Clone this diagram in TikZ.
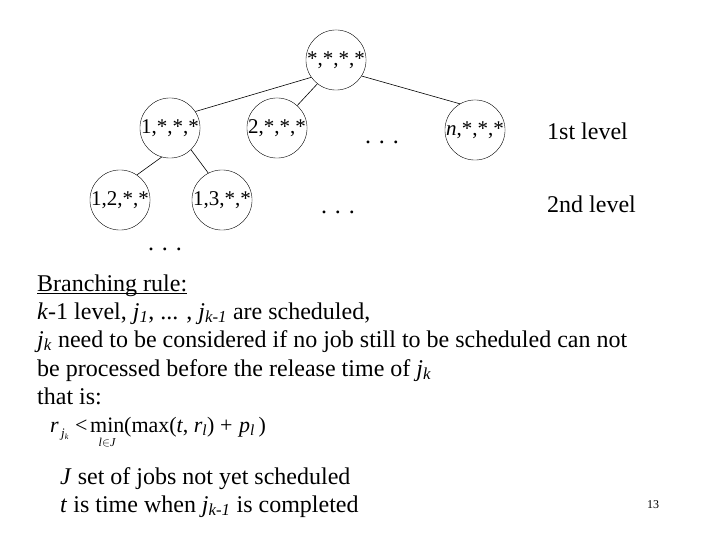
\documentclass[tikz,border=0pt]{standalone}
\usepackage{fontspec}
\setmainfont{Liberation Serif}
\usetikzlibrary{calc}
\begin{document}
\begin{tikzpicture}[x=1pt,y=-1pt,
  tnode/.style={draw,circle,minimum size=60pt,inner sep=0pt,font=\fontsize{21}{23}\selectfont},
  body/.style={anchor=base west,inner sep=0pt,font=\fontsize{24}{28}\selectfont},
  form/.style={anchor=base west,inner sep=0pt,font=\fontsize{22}{24}\selectfont},
  dots/.style={anchor=base,inner sep=0pt,font=\fontsize{24}{28}\selectfont},
  edge/.style={draw,line width=0.6pt}]
\useasboundingbox (0,0) rectangle (720,540);
\node[tnode] (root) at (336,60) {*,*,*,*};
\node[tnode] (n1) at (170,128) {1,*,*,*};
\node[tnode] (n2) at (277,128) {2,*,*,*};
\node[tnode] (nn) at (475,130) {\textit{n},*,*,*};
\node[tnode] (n12) at (120,200) {1,2,*,*};
\node[tnode] (n13) at (222,200) {1,3,*,*};
\node[dots] (d1) at (382,144) {. . .};
\node[dots] (d2) at (338,214) {. . .};
\node[dots] (d3) at (165,251) {. . .};
\node[body] (l1) at (547,140) {1st level};
\node[body] (l2) at (547,213) {2nd level};
\draw[edge] (root.215) -- (n1.33);
\draw[edge] (root.232) -- (n2.48);
\draw[edge] (root.328) -- (nn.120);
\draw[edge] (n1.254) -- (n12.56);
\draw[edge] (n1.314) -- (n13.117);
\node[body] (t1) at (37,291) {Branching rule:};
\draw[line width=1.4pt] ($(t1.base west)+(0,2.5)$) -- ($(t1.base east)+(0,2.5)$);
\node[body] (t2) at (37,319) {\textit{k}-1 level, \textit{j}\textsubscript{\textit{1}}, ... , \textit{j}\textsubscript{\textit{k-1}} are scheduled,};
\node[body] (t3) at (37,347) {\textit{j}\textsubscript{\textit{k}} need to be considered if no job still to be scheduled can not};
\node[body] (t4) at (37,376) {be processed before the release time of \textit{j}\textsubscript{\textit{k}}};
\node[body] (t5) at (37,404) {that is:};
\node[form] (fr) at (50,432) {\textit{r}};
\node[anchor=base west,inner sep=0pt,font=\fontsize{13}{14}\selectfont] (fj) at (61,437) {\textit{j}\raisebox{-2pt}{\fontsize{8}{8}\selectfont\textit{k}}};
\node[form] (flt) at (75,432) {<};
\node[form] (fmin) at (90,432) {min};
\node[anchor=north,inner sep=0pt,font=\fontsize{12}{13}\selectfont] (fsub) at ($(fmin.base)+(0,6)$) {\textit{l}$\in$\textit{J}};
\node[form] (fa) at (124,432) {(max(\textit{t}, \textit{r}\textsubscript{\textit{l}})};
\node[form] (fplus) at (220,432) {+};
\node[form] (fc) at (239,432) {\textit{p}\textsubscript{\textit{l}}\,)};
\node[body] (t6) at (60,484) {\textit{J} set of jobs not yet scheduled};
\node[body] (t7) at (60,512) {\textit{t} is time when \textit{j}\textsubscript{\textit{k-1}} is completed};
\node[anchor=base,inner sep=0pt,font=\fontsize{12}{14}\selectfont] (pg) at (653,508) {13};
\end{tikzpicture}
\end{document}
